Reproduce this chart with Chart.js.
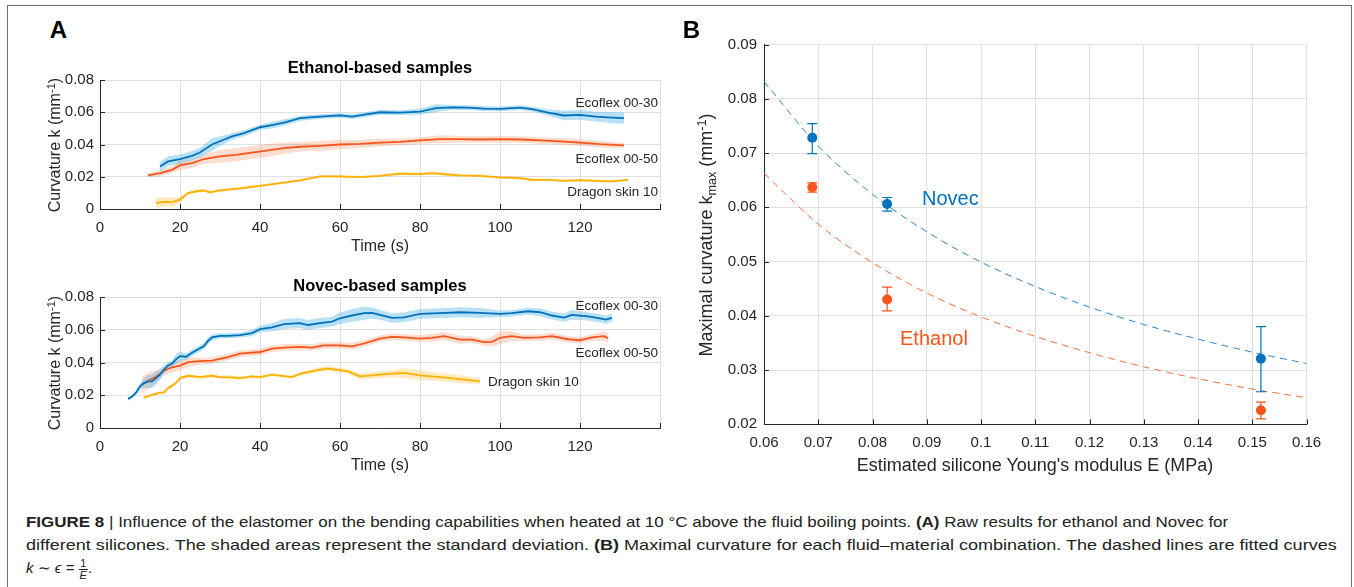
<!DOCTYPE html>
<html>
<head>
<meta charset="utf-8">
<script src="https://cdn.jsdelivr.net/npm/chart.js@4.4.0/dist/chart.umd.min.js"></script>
<style>
body { margin:0; width:1354px; height:587px; overflow:hidden; background:#fff; position:relative;
       font-family:"Liberation Sans", Arial, sans-serif; color:#262626; }
.frame { position:absolute; left:7px; top:5px; width:1345px; height:620px; border:1.5px solid #6e6e6e; box-sizing:border-box; }
.box { position:absolute; }
.t { position:absolute; white-space:nowrap; transform:translate(-50%,-50%); line-height:1; }
.r { transform:translate(-100%,-50%); }
.l { transform:translate(0,-50%); }
.rot { transform:translate(-50%,-50%) rotate(-90deg); }
.big { font-weight:bold; font-size:24px; color:#000; }
.ttl { font-weight:bold; font-size:16.5px; color:#000; }
.ax { font-size:16px; }
.axb { font-size:18px; }
.lab { font-size:13.5px; }
sup { font-size:70%; vertical-align:0.45em; line-height:0; }
sub { font-size:70%; vertical-align:-0.3em; line-height:0; }
.cap { position:absolute; left:26px; white-space:nowrap; font-size:15px; color:#222; transform-origin:0 50%; line-height:20px; }
.frac { display:inline-block; vertical-align:middle; text-align:center; font-size:11px; line-height:11px; font-style:italic; }
.frac span { display:block; padding:0 1px; }
.frac span:first-child { border-bottom:1px solid #222; font-style:normal; }
</style>
</head>
<body>
<div class="frame"></div>

<div class="box" style="left:30px;top:50px;"><canvas id="ethanol" width="650" height="210"></canvas></div>
<div class="box" style="left:30px;top:267px;"><canvas id="novec" width="650" height="212"></canvas></div>
<div class="box" style="left:690px;top:20px;"><canvas id="fit" width="664" height="470"></canvas></div>

<div class="t big" style="left:58.5px;top:30px;">A</div>
<div class="t big" style="left:691.5px;top:30px;">B</div>

<div class="t ttl" style="left:380px;top:67px;">Ethanol-based samples</div>
<div class="t ttl" style="left:380px;top:285px;">Novec-based samples</div>
<div class="t ax" style="left:380px;top:246px;">Time (s)</div>
<div class="t ax" style="left:380px;top:465px;">Time (s)</div>
<div class="t ax rot" style="left:55px;top:144.5px;">Curvature k (mm<sup>-1</sup>)</div>
<div class="t ax rot" style="left:55px;top:362.5px;">Curvature k (mm<sup>-1</sup>)</div>

<div class="t lab r" style="left:658px;top:103px;">Ecoflex 00-30</div>
<div class="t lab r" style="left:658px;top:159px;">Ecoflex 00-50</div>
<div class="t lab r" style="left:658px;top:192px;">Dragon skin 10</div>
<div class="t lab r" style="left:658px;top:306px;">Ecoflex 00-30</div>
<div class="t lab r" style="left:658px;top:353px;">Ecoflex 00-50</div>
<div class="t lab l" style="left:488px;top:382px;">Dragon skin 10</div>

<div class="t axb rot" style="left:706px;top:234.5px;">Maximal curvature k<sub>max</sub> (mm<sup>-1</sup>)</div>
<div class="t axb" style="left:1035px;top:465px;">Estimated silicone Young's modulus E (MPa)</div>
<div class="t l" style="left:922px;top:198px;font-size:20px;color:#0072bd;">Novec</div>
<div class="t l" style="left:900px;top:337.5px;font-size:20px;color:#f9551a;">Ethanol</div>

<div class="cap" id="cap1" style="top:512px;"><b>FIGURE 8</b> | Influence of the elastomer on the bending capabilities when heated at 10 °C above the fluid boiling points. <b>(A)</b> Raw results for ethanol and Novec for</div>
<div class="cap" id="cap2" style="top:535px;">different silicones. The shaded areas represent the standard deviation. <b>(B)</b> Maximal curvature for each fluid–material combination. The dashed lines are fitted curves</div>
<div class="cap" id="cap3" style="top:558px;"><i>k</i> ∼ <i>ϵ</i> = <span class="frac"><span>1</span><span>E</span></span>.</div>

<script>
// ---- panel A: ethanol ----
const e30Time = [15,17,20,23,25,28,30,33,36,40,43,46,50,55,60,63,67,70,75,80,84,88,92,96,100,105,108,112,116,120,124,128,131];
const e30Mean = [0.0264,0.0295,0.031,0.033,0.035,0.040,0.042,0.045,0.047,0.0507,0.052,0.0536,0.0563,0.0573,0.058,0.0573,0.0588,0.060,0.0598,0.0604,0.0625,0.063,0.0629,0.0623,0.0621,0.0629,0.0619,0.0598,0.058,0.0584,0.0573,0.0567,0.0563];
const e30Sd   = [0.003,0.003,0.003,0.003,0.003,0.004,0.003,0.002,0.002,0.0015,0.002,0.002,0.0015,0.0015,0.0015,0.0015,0.0015,0.0015,0.0015,0.002,0.0025,0.0015,0.0015,0.0015,0.0015,0.0015,0.0015,0.002,0.003,0.003,0.003,0.0035,0.0035];

const e50Time = [12,15,18,20,23,26,30,34,38,42,46,50,55,60,65,70,75,80,85,90,95,100,105,110,115,120,125,131];
const e50Mean = [0.0208,0.0223,0.0243,0.0272,0.0285,0.031,0.0326,0.0336,0.035,0.0363,0.0377,0.0386,0.0392,0.040,0.0404,0.0412,0.0416,0.0425,0.0433,0.0433,0.0431,0.0433,0.0431,0.0425,0.042,0.0412,0.0402,0.0394];
const e50Sd   = [0.001,0.002,0.002,0.003,0.003,0.003,0.004,0.004,0.004,0.004,0.0035,0.003,0.003,0.003,0.0025,0.0025,0.002,0.002,0.0025,0.002,0.002,0.002,0.002,0.002,0.002,0.002,0.002,0.0015];

const eDsTime = [14,16,18,20,22,24,26,27.5,30,35,40,45,50,55,60,65,70,75,80,83,87,90,95,100,105,108,112,116,120,124,128,132];
const eDsMean = [0.0037,0.0045,0.0043,0.0058,0.0099,0.011,0.0115,0.0103,0.0115,0.0128,0.0144,0.016,0.0177,0.0202,0.0202,0.0198,0.0206,0.0219,0.0216,0.0223,0.0214,0.0208,0.0206,0.0196,0.0192,0.0181,0.0181,0.0175,0.0179,0.0175,0.0171,0.0181];
const eDsSd   = [0.003,0.003,0.003,0.002,0.001,0.001,0.001,0.001,0.001,0.0008,0.0008,0.0008,0.0008,0.0008,0.0008,0.0008,0.0008,0.001,0.001,0.001,0.001,0.0008,0.0008,0.0008,0.0008,0.0008,0.0008,0.0008,0.0008,0.0008,0.0008,0.0008];

// ---- panel A: novec ----
const n30Time = [7,8,9,10,11,12,13,14,15,16,17,18,19,20,21.5,23,25,26,27,28,30,32,35,38,40,43,46,50,52,55,58,60,63,66,68,70,73,76,80,85,90,95,100,103,107,110,113,116,118,122,125,126.5,128];
const n30Mean = [0.0177,0.0192,0.0216,0.0254,0.0274,0.0285,0.0285,0.0305,0.0326,0.0357,0.0381,0.0394,0.0419,0.0439,0.0435,0.046,0.0487,0.0501,0.0532,0.0553,0.0563,0.0563,0.0567,0.058,0.0604,0.0614,0.0635,0.0641,0.0629,0.0641,0.065,0.067,0.0687,0.0701,0.0703,0.0691,0.0672,0.0676,0.0697,0.0701,0.0707,0.0703,0.0697,0.0701,0.0713,0.0707,0.0687,0.0674,0.0691,0.0682,0.067,0.0662,0.0672];
const n30Sd   = [0.001,0.001,0.0015,0.002,0.003,0.004,0.004,0.004,0.003,0.0025,0.002,0.002,0.003,0.003,0.002,0.002,0.002,0.002,0.002,0.002,0.0015,0.0015,0.0015,0.002,0.002,0.0025,0.003,0.003,0.003,0.003,0.003,0.0035,0.004,0.004,0.0035,0.003,0.003,0.003,0.003,0.003,0.003,0.003,0.002,0.002,0.002,0.0025,0.0025,0.0025,0.003,0.0025,0.0025,0.0025,0.0025];

const n50Time = [10.5,12,14,16,18,20,22,25,28,32,35,40,43,46,50,53,56,60,63,66,70,73,76,80,83,86,90,93,96,98,100,103,106,110,113,117,120,123,126,127];
const n50Mean = [0.0264,0.0289,0.0313,0.035,0.0371,0.0381,0.0402,0.0408,0.0412,0.0433,0.0454,0.0464,0.0485,0.0491,0.0495,0.0491,0.0505,0.0505,0.0499,0.0516,0.0546,0.0557,0.0553,0.0546,0.0551,0.0561,0.054,0.054,0.0524,0.0526,0.0551,0.0561,0.0551,0.0553,0.0561,0.0542,0.0536,0.0553,0.0561,0.0549];
const n50Sd   = [0.005,0.005,0.004,0.003,0.003,0.003,0.003,0.002,0.002,0.002,0.002,0.002,0.002,0.002,0.002,0.002,0.002,0.002,0.002,0.002,0.002,0.002,0.002,0.002,0.0025,0.0025,0.0025,0.002,0.002,0.003,0.004,0.003,0.002,0.002,0.002,0.002,0.002,0.002,0.003,0.003];

const nDsTime = [11,13,15,16,17,19,20,22,25,28,30,33,35,38,40,43,46,48,50,55,57,60,62,65,68,72,76,80,85,90,95];
const nDsMean = [0.0186,0.0202,0.0216,0.0216,0.0243,0.0274,0.0305,0.0319,0.0311,0.0319,0.0311,0.0309,0.0305,0.0315,0.0311,0.0326,0.0317,0.0311,0.033,0.0357,0.0363,0.0353,0.0346,0.0315,0.0322,0.033,0.0336,0.0322,0.0311,0.0299,0.0285];
const nDsSd   = [0.0008,0.0008,0.0008,0.0008,0.001,0.001,0.001,0.001,0.001,0.001,0.001,0.0015,0.001,0.001,0.001,0.001,0.001,0.001,0.001,0.0015,0.0015,0.0015,0.0015,0.002,0.002,0.002,0.003,0.003,0.0025,0.0025,0.002];

const timeTicks = [0,20,40,60,80,100,120,140];
const timeTickLabels = ['0','20','40','60','80','100','120',''];
const curvTicks = [0,0.02,0.04,0.06,0.08];
const curvTickLabels = ['0','0.02','0.04','0.06','0.08'];

// ---- panel B ----
const modulus = [0.0689,0.0827,0.1516];
const novecMax = [0.0728,0.0606,0.0321];
const novecLow = [0.0699,0.0593,0.0260];
const novecHigh = [0.0754,0.0618,0.0380];
const ethanolMax = [0.0637,0.0430,0.0226];
const ethanolLow = [0.0628,0.0409,0.0210];
const ethanolHigh = [0.0645,0.0453,0.0241];

const fitE = [0.06,0.07,0.08,0.09,0.10,0.11,0.12,0.13,0.14,0.15,0.16];
const novecFit = [0.0832,0.0713,0.0624,0.0555,0.0499,0.0454,0.0416,0.0384,0.0357,0.0333,0.0312];
const ethanolFit = [0.0663,0.0569,0.0498,0.0442,0.0398,0.0362,0.0332,0.0306,0.0284,0.0265,0.0249];

const modTicks = [0.06,0.07,0.08,0.09,0.10,0.11,0.12,0.13,0.14,0.15,0.16];
const modTickLabels = ['0.06','0.07','0.08','0.09','0.1','0.11','0.12','0.13','0.14','0.15','0.16'];
const kmaxTicks = [0.02,0.03,0.04,0.05,0.06,0.07,0.08,0.09];
const kmaxTickLabels = ['0.02','0.03','0.04','0.05','0.06','0.07','0.08','0.09'];

const BLUE = '#0072bd', ORANGE = '#f9551a', YELLOW = '#ffb000';
const FONT = '"Liberation Sans", Arial, sans-serif';
Chart.defaults.font.family = FONT;
Chart.defaults.color = '#262626';

// MATLAB-style inward tick marks
const innerTicks = {
    id: 'innerTicks',
    afterDraw(chart) {
        const { ctx, chartArea: a, scales: { x, y } } = chart;
        ctx.save();
        ctx.strokeStyle = '#262626';
        ctx.lineWidth = 1;
        ctx.beginPath();
        x.ticks.forEach(t => {
            const p = Math.round(x.getPixelForValue(t.value)) + 0.5;
            ctx.moveTo(p, a.bottom); ctx.lineTo(p, a.bottom - 5);
        });
        y.ticks.forEach(t => {
            const p = Math.round(y.getPixelForValue(t.value)) + 0.5;
            ctx.moveTo(a.left, p); ctx.lineTo(a.left + 5, p);
        });
        ctx.stroke();
        ctx.restore();
    }
};

// vertical error bars with caps
const errorBars = {
    id: 'errorBars',
    afterDatasetsDraw(chart) {
        const { ctx, scales: { x, y } } = chart;
        chart.data.datasets.forEach(ds => {
            if (!ds.errLow) return;
            ctx.save();
            ctx.strokeStyle = ds.pointBackgroundColor;
            ctx.lineWidth = 1.2;
            ds.data.forEach((p, i) => {
                const px = x.getPixelForValue(p.x);
                const lo = y.getPixelForValue(ds.errLow[i]);
                const hi = y.getPixelForValue(ds.errHigh[i]);
                ctx.beginPath();
                ctx.moveTo(px, lo); ctx.lineTo(px, hi);
                ctx.moveTo(px - 5, lo); ctx.lineTo(px + 5, lo);
                ctx.moveTo(px - 5, hi); ctx.lineTo(px + 5, hi);
                ctx.stroke();
            });
            ctx.restore();
        });
    }
};

function axis(min, max, ticks, labels, fit, pad) {
    return {
        type: 'linear', min, max,
        afterBuildTicks: s => { s.ticks = ticks.map(v => ({ value: v })); },
        afterFit: fit,
        grid: { color: '#e0e0e0', drawTicks: false },
        border: { color: '#262626', width: 1 },
        ticks: { autoSkip: false, maxRotation: 0, padding: pad, font: { size: 15 }, color: '#262626',
                 callback: (v, i) => labels[i] }
    };
}

function timeChart(id, series) {
    const datasets = [];
    series.forEach(s => {
        datasets.push({ data: s.t.map((t, i) => ({ x: t, y: s.k[i] + s.sd[i] })),
                        borderWidth: 0, pointRadius: 0, fill: false, order: 2 });
        datasets.push({ data: s.t.map((t, i) => ({ x: t, y: s.k[i] - s.sd[i] })),
                        borderWidth: 0, pointRadius: 0, fill: '-1', backgroundColor: s.band, order: 2 });
        datasets.push({ data: s.t.map((t, i) => ({ x: t, y: s.k[i] })),
                        borderColor: s.color, borderWidth: 1.8, pointRadius: 0, fill: false, order: 1 });
    });
    return new Chart(document.getElementById(id), {
        type: 'line',
        data: { datasets },
        options: {
            responsive: false, animation: false, devicePixelRatio: 1,
            layout: { padding: { top: 30, right: 20, left: 0, bottom: 0 } },
            plugins: { legend: { display: false }, tooltip: { enabled: false } },
            scales: {
                x: axis(0, 140, timeTicks, timeTickLabels, s => { s.height = 51; }, 10),
                y: axis(0, 0.08, curvTicks, curvTickLabels, s => { s.width = 70; }, 6)
            }
        },
        plugins: [innerTicks]
    });
}

timeChart('ethanol', [
    { t: e30Time, k: e30Mean, sd: e30Sd, color: BLUE, band: 'rgba(77,180,230,0.40)' },
    { t: e50Time, k: e50Mean, sd: e50Sd, color: ORANGE, band: 'rgba(249,85,26,0.20)' },
    { t: eDsTime, k: eDsMean, sd: eDsSd, color: YELLOW, band: 'rgba(255,176,0,0.25)' }
]);
timeChart('novec', [
    { t: n30Time, k: n30Mean, sd: n30Sd, color: BLUE, band: 'rgba(77,180,230,0.40)' },
    { t: n50Time, k: n50Mean, sd: n50Sd, color: ORANGE, band: 'rgba(249,85,26,0.20)' },
    { t: nDsTime, k: nDsMean, sd: nDsSd, color: YELLOW, band: 'rgba(255,176,0,0.25)' }
]);

new Chart(document.getElementById('fit'), {
    type: 'line',
    data: {
        datasets: [
            { data: fitE.map((e, i) => ({ x: e, y: novecFit[i] })), borderColor: '#2f87c9', borderWidth: 1,
              borderDash: [7, 5], pointRadius: 0, cubicInterpolationMode: 'monotone', fill: false },
            { data: fitE.map((e, i) => ({ x: e, y: ethanolFit[i] })), borderColor: '#f4703c', borderWidth: 1,
              borderDash: [7, 5], pointRadius: 0, cubicInterpolationMode: 'monotone', fill: false },
            { data: modulus.map((e, i) => ({ x: e, y: novecMax[i] })), showLine: false, pointRadius: 5,
              pointBackgroundColor: BLUE, pointBorderWidth: 0, errLow: novecLow, errHigh: novecHigh },
            { data: modulus.map((e, i) => ({ x: e, y: ethanolMax[i] })), showLine: false, pointRadius: 5,
              pointBackgroundColor: ORANGE, pointBorderWidth: 0, errLow: ethanolLow, errHigh: ethanolHigh }
        ]
    },
    options: {
        responsive: false, animation: false, devicePixelRatio: 1,
        layout: { padding: { top: 24.5, right: 47.5, left: 0, bottom: 0 } },
        plugins: { legend: { display: false }, tooltip: { enabled: false } },
        scales: {
            x: axis(0.06, 0.16, modTicks, modTickLabels, s => { s.height = 65.7; }, 10),
            y: axis(0.02, 0.09, kmaxTicks, kmaxTickLabels, s => { s.width = 74; }, 7)
        }
    },
    plugins: [innerTicks, errorBars]
});

// stretch caption lines to the reference line widths
[['cap1', 1202], ['cap2', 1311]].forEach(([id, w]) => {
    const el = document.getElementById(id);
    el.style.transform = 'scaleX(' + (w / el.scrollWidth) + ')';
});
</script>
</body>
</html>
